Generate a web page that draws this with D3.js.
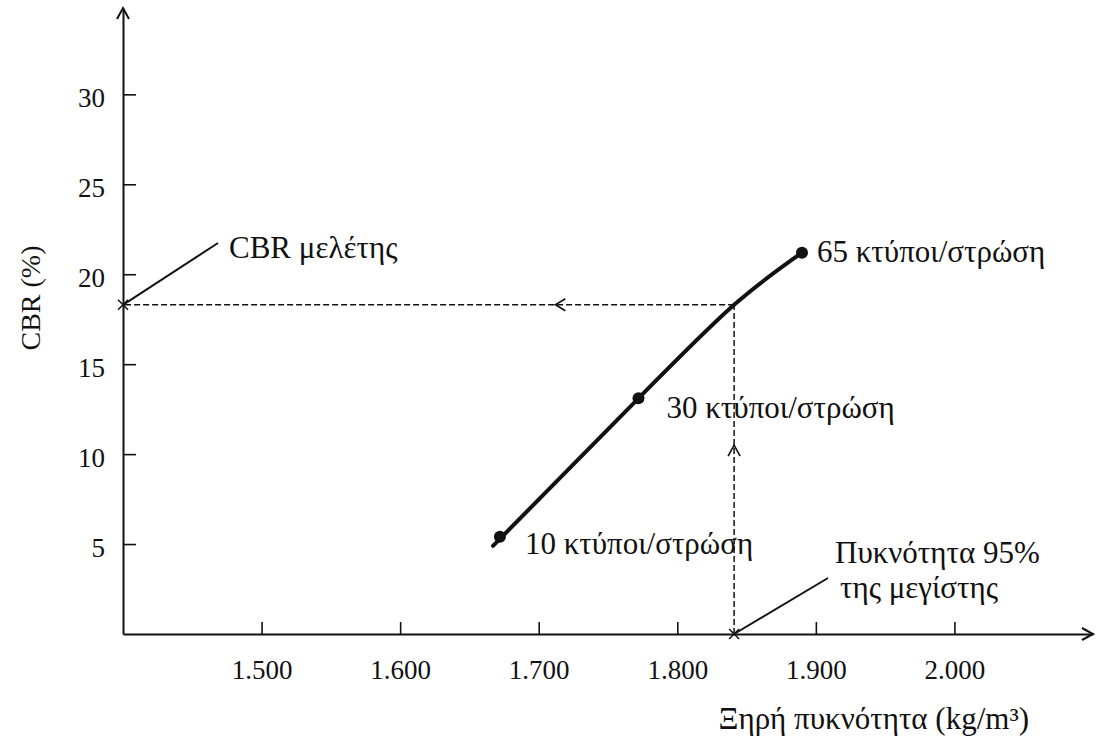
<!DOCTYPE html>
<html>
<head>
<meta charset="utf-8">
<script src="https://cdn.jsdelivr.net/npm/d3@7"></script>
<style>
  html, body { margin: 0; padding: 0; background: #fff; }
  svg { display: block; }
  text { font-family: "Liberation Serif", "DejaVu Serif", serif; fill: #111; }
</style>
</head>
<body>
<svg id="chart" width="1096" height="745"></svg>
<script>
// CBR test: CBR (%) versus dry density for three compaction efforts
const blowLabels = ["10 κτύποι/στρώση", "30 κτύποι/στρώση", "65 κτύποι/στρώση"];
const densities  = [1672, 1772, 1890];      // kg/m³
const cbrValues  = [5.4, 13.1, 21.2];       // %

// fitted curve through the tests (starts just below the 10-blow point)
const curveDensity = [1667, 1772, 1841, 1890];
const curveCbr     = [4.9, 13.1, 18.3, 21.2];

// design reading: 95% of maximum density -> design CBR
const designDensity = 1841;
const designCbr = 18.3;

const xTickValues = [1500, 1600, 1700, 1800, 1900, 2000];
const xTickLabels = ["1.500", "1.600", "1.700", "1.800", "1.900", "2.000"];
const yTickValues = [5, 10, 15, 20, 25, 30];
const yTickLabels = ["5", "10", "15", "20", "25", "30"];

const svg = d3.select("#chart");
const ink = "#111";
const labelSize = "31px";

const x = d3.scaleLinear().domain([1400, 2100]).range([123, 1093]);
const y = d3.scaleLinear().domain([0, 34.8]).range([634, 8]);

// ---- axes ----
const xAxis = d3.axisBottom(x)
  .tickValues(xTickValues)
  .tickFormat((d, i) => xTickLabels[i])
  .tickSizeInner(-12).tickSizeOuter(0).tickPadding(26);
const yAxis = d3.axisLeft(y)
  .tickValues(yTickValues)
  .tickFormat((d, i) => yTickLabels[i])
  .tickSizeInner(-13).tickSizeOuter(0).tickPadding(18);

const gx = svg.append("g").attr("transform", `translate(0,${y(0)})`).call(xAxis);
const gy = svg.append("g").attr("transform", `translate(${x(1400)},0)`).call(yAxis);

[gx, gy].forEach(g => {
  g.select(".domain").attr("stroke", ink).attr("stroke-width", 2);
  g.selectAll(".tick line").attr("stroke", ink).attr("stroke-width", 1.6);
  g.selectAll(".tick text")
    .attr("fill", ink)
    .style("font-family", '"Liberation Serif", serif')
    .style("font-size", "27px");
});
gy.selectAll(".tick text").attr("dy", "0.45em");

// open arrowheads at the axis ends
const x0 = x(1400), y0 = y(0);
const xEnd = x(2100), yEnd = y(34.8);
svg.append("path")
  .attr("d", `M${xEnd - 11},${y0 - 6} L${xEnd},${y0} L${xEnd - 11},${y0 + 6}`)
  .attr("fill", "none").attr("stroke", ink).attr("stroke-width", 2);
svg.append("path")
  .attr("d", `M${x0 - 6},${yEnd + 11} L${x0},${yEnd} L${x0 + 6},${yEnd + 11}`)
  .attr("fill", "none").attr("stroke", ink).attr("stroke-width", 2);

// axis titles
svg.append("text")
  .attr("transform", "translate(40,298) rotate(-90)")
  .attr("text-anchor", "middle")
  .style("font-size", "28px")
  .text("CBR (%)");
svg.append("text")
  .attr("x", 1029).attr("y", 729)
  .attr("text-anchor", "end")
  .style("font-size", labelSize)
  .text("Ξηρή πυκνότητα (kg/m³)");

// ---- design reading: dashed construction lines ----
const dash = "6,3";
svg.append("line")
  .attr("x1", x(designDensity)).attr("y1", y(0))
  .attr("x2", x(designDensity)).attr("y2", y(designCbr))
  .attr("stroke", ink).attr("stroke-width", 1.5).attr("stroke-dasharray", dash);
svg.append("line")
  .attr("x1", x(designDensity)).attr("y1", y(designCbr))
  .attr("x2", x(1400)).attr("y2", y(designCbr))
  .attr("stroke", ink).attr("stroke-width", 1.5).attr("stroke-dasharray", dash);

// direction arrows on the dashed lines
const ax = x(1712), ay = y(designCbr);
svg.append("path")
  .attr("d", `M${ax + 10},${ay - 6} L${ax},${ay} L${ax + 10},${ay + 6}`)
  .attr("fill", "none").attr("stroke", ink).attr("stroke-width", 1.6);
const vx = x(designDensity), vy = y(10.5);
svg.append("path")
  .attr("d", `M${vx - 6},${vy + 11} L${vx},${vy} L${vx + 6},${vy + 11}`)
  .attr("fill", "none").attr("stroke", ink).attr("stroke-width", 1.6);

// cross marks where the construction lines meet the axes
function cross(cx, cy) {
  svg.append("path")
    .attr("d", `M${cx - 5},${cy - 5} L${cx + 5},${cy + 5} M${cx - 5},${cy + 5} L${cx + 5},${cy - 5}`)
    .attr("stroke", ink).attr("stroke-width", 1.5);
}
cross(x(1400), y(designCbr));
cross(x(designDensity), y(0));

// ---- CBR curve ----
const line = d3.line()
  .x((d, i) => x(curveDensity[i]))
  .y((d, i) => y(curveCbr[i]))
  .curve(d3.curveNatural);
svg.append("path")
  .datum(curveDensity)
  .attr("d", line)
  .attr("fill", "none")
  .attr("stroke", ink)
  .attr("stroke-width", 4)
  .attr("stroke-linecap", "round");

svg.selectAll("circle.test")
  .data(densities)
  .join("circle")
  .attr("class", "test")
  .attr("cx", d => x(d))
  .attr("cy", (d, i) => y(cbrValues[i]))
  .attr("r", 6)
  .attr("fill", ink);

// point labels
const labelPos = [
  { dx: 25, dy: 17 },
  { dx: 28, dy: 20 },
  { dx: 15, dy: 9 }
];
svg.selectAll("text.blows")
  .data(blowLabels)
  .join("text")
  .attr("class", "blows")
  .attr("x", (d, i) => x(densities[i]) + labelPos[i].dx)
  .attr("y", (d, i) => y(cbrValues[i]) + labelPos[i].dy)
  .style("font-size", labelSize)
  .text(d => d);

// ---- callouts ----
svg.append("line")
  .attr("x1", x(1400)).attr("y1", y(designCbr))
  .attr("x2", 218).attr("y2", 243)
  .attr("stroke", ink).attr("stroke-width", 2);
svg.append("text")
  .attr("x", 229).attr("y", 258)
  .style("font-size", labelSize)
  .text("CBR μελέτης");

svg.append("line")
  .attr("x1", x(designDensity)).attr("y1", y(0))
  .attr("x2", 828).attr("y2", 578)
  .attr("stroke", ink).attr("stroke-width", 2);
svg.append("text")
  .attr("x", 835).attr("y", 563)
  .style("font-size", labelSize)
  .text("Πυκνότητα 95%");
svg.append("text")
  .attr("x", 840).attr("y", 598)
  .style("font-size", labelSize)
  .text("της μεγίστης");
</script>
</body>
</html>
